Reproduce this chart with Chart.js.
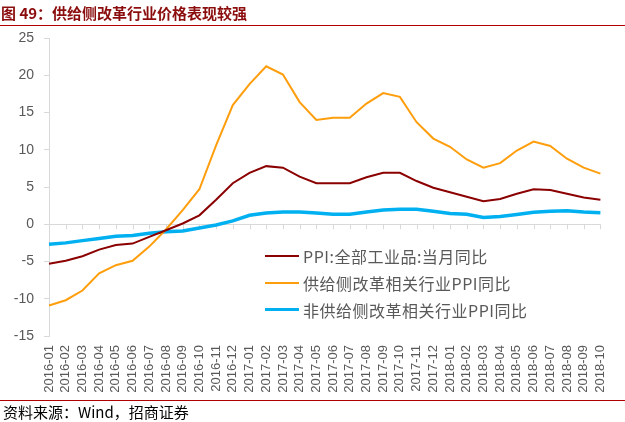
<!DOCTYPE html>
<html>
<head>
<meta charset="utf-8">
<script src="https://cdn.jsdelivr.net/npm/chart.js@4"></script>
<style>
    body { margin: 0; background: #fff; }
    #wrap { position: relative; width: 625px; height: 422px; overflow: hidden; }
    #chart { position: absolute; left: 0; top: 0; }
    .title {
        position: absolute; left: 1px; top: 2px;
        font: bold 15px "Noto Sans CJK SC", sans-serif; color: #8b0d0d;
    }
    .rule { position: absolute; left: 0; width: 625px; height: 1px; background: #b00000; }
    .source {
        position: absolute; left: 3px; top: 401px;
        font: 15px "Noto Sans CJK SC", sans-serif; color: #000;
    }
    .legend { position: absolute; left: 265px; top: 242px; }
    .legend div {
        height: 27px; line-height: 20px; display: flex; align-items: center;
        font: 16px "Noto Sans CJK SC", sans-serif; color: #595959; letter-spacing: 0.5px;
    }
    .legend span.key { display: inline-block; width: 34px; margin-right: 4px; }
</style>
</head>
<body>
<div id="wrap">
    <canvas id="chart" width="625" height="422"></canvas>
    <div class="title">图 49：供给侧改革行业价格表现较强</div>
    <div class="rule" style="top:25px"></div>
    <div class="legend" id="legend"></div>
    <div class="rule" style="top:400px"></div>
    <div class="source">资料来源：Wind，招商证券</div>
</div>
<script>
// Months on the x axis
const months = [
    '2016-01', '2016-02', '2016-03', '2016-04', '2016-05', '2016-06', '2016-07', '2016-08', '2016-09', '2016-10', '2016-11', '2016-12',
    '2017-01', '2017-02', '2017-03', '2017-04', '2017-05', '2017-06', '2017-07', '2017-08', '2017-09', '2017-10', '2017-11', '2017-12',
    '2018-01', '2018-02', '2018-03', '2018-04', '2018-05', '2018-06', '2018-07', '2018-08', '2018-09', '2018-10'
];

// PPI:全部工业品:当月同比
const ppiAll = [-5.3, -4.9, -4.3, -3.4, -2.8, -2.6, -1.7, -0.8, 0.1, 1.2, 3.3, 5.5,
    6.9, 7.8, 7.6, 6.4, 5.5, 5.5, 5.5, 6.3, 6.9, 6.9, 5.8, 4.9,
    4.3, 3.7, 3.1, 3.4, 4.1, 4.7, 4.6, 4.1, 3.6, 3.3];

// 供给侧改革相关行业PPI同比
const ppiSupply = [-10.9, -10.2, -8.9, -6.6, -5.5, -4.9, -3.0, -0.7, 1.9, 4.7, 10.6, 16.0,
    18.8, 21.2, 20.1, 16.4, 14.0, 14.3, 14.3, 16.2, 17.6, 17.1, 13.7, 11.5,
    10.4, 8.7, 7.6, 8.2, 9.9, 11.1, 10.5, 8.8, 7.6, 6.8];

// 非供给侧改革相关行业PPI同比
const ppiOther = [-2.7, -2.5, -2.2, -1.9, -1.6, -1.5, -1.2, -1.0, -0.9, -0.5, -0.1, 0.45,
    1.2, 1.5, 1.65, 1.65, 1.5, 1.35, 1.35, 1.65, 1.9, 2.0, 2.0, 1.75,
    1.45, 1.35, 0.9, 1.05, 1.3, 1.6, 1.75, 1.8, 1.65, 1.55];

const seriesNames = ['PPI:全部工业品:当月同比', '供给侧改革相关行业PPI同比', '非供给侧改革相关行业PPI同比'];
const seriesColors = ['#8b0000', '#ff9e0d', '#00b0f0'];
const seriesWidths = [2, 2, 3.5];

// Little tick marks hanging from the zero line, like the Excel axis
const zeroTicks = {
    id: 'zeroTicks',
    beforeDatasetsDraw(chart) {
        const { ctx, scales: { x, y } } = chart;
        const y0 = y.getPixelForValue(0);
        ctx.save();
        ctx.strokeStyle = '#d9d9d9';
        ctx.lineWidth = 1;
        ctx.beginPath();
        months.forEach((m, i) => {
            const px = Math.round(x.getPixelForValue(i)) + 0.5;
            ctx.moveTo(px, y0);
            ctx.lineTo(px, y0 + 5);
        });
        ctx.stroke();
        ctx.restore();
    }
};

const datasets = [ppiAll, ppiSupply, ppiOther].map((data, i) => ({
    label: seriesNames[i],
    data: data,
    borderColor: seriesColors[i],
    backgroundColor: seriesColors[i],
    borderWidth: seriesWidths[i],
    pointRadius: 0,
    tension: 0,
    order: i
}));

new Chart(document.getElementById('chart').getContext('2d'), {
    type: 'line',
    data: { labels: months, datasets: datasets },
    options: {
        responsive: false,
        animation: false,
        layout: { padding: { left: 0, top: 38, right: 9, bottom: 0 } },
        plugins: { legend: { display: false }, tooltip: { enabled: false } },
        scales: {
            x: {
                offset: false,
                grid: { display: false, drawTicks: false },
                border: { display: false },
                ticks: {
                    autoSkip: false,
                    maxRotation: 90,
                    minRotation: 90,
                    padding: 9,
                    color: '#595959',
                    font: { family: 'Liberation Sans', size: 13 }
                },
                afterFit: scale => { scale.height = 86; }
            },
            y: {
                min: -15,
                max: 25,
                ticks: {
                    stepSize: 5,
                    padding: 10,
                    color: '#595959',
                    font: { family: 'Liberation Sans', size: 14 }
                },
                grid: {
                    color: ctx => (ctx.tick && ctx.tick.value === 0) ? '#d9d9d9' : 'rgba(0,0,0,0)',
                    tickColor: '#d9d9d9',
                    tickLength: 5
                },
                border: { color: '#d9d9d9' },
                afterFit: scale => { scale.width = 49; }
            }
        }
    },
    plugins: [zeroTicks]
});

// Legend rows sit inside the plot area
const legendBox = document.getElementById('legend');
seriesNames.forEach((name, i) => {
    const row = document.createElement('div');
    row.innerHTML = `<span class="key" style="border-top:${seriesWidths[i]}px solid ${seriesColors[i]}"></span>${name}`;
    legendBox.appendChild(row);
});
</script>
</body>
</html>
